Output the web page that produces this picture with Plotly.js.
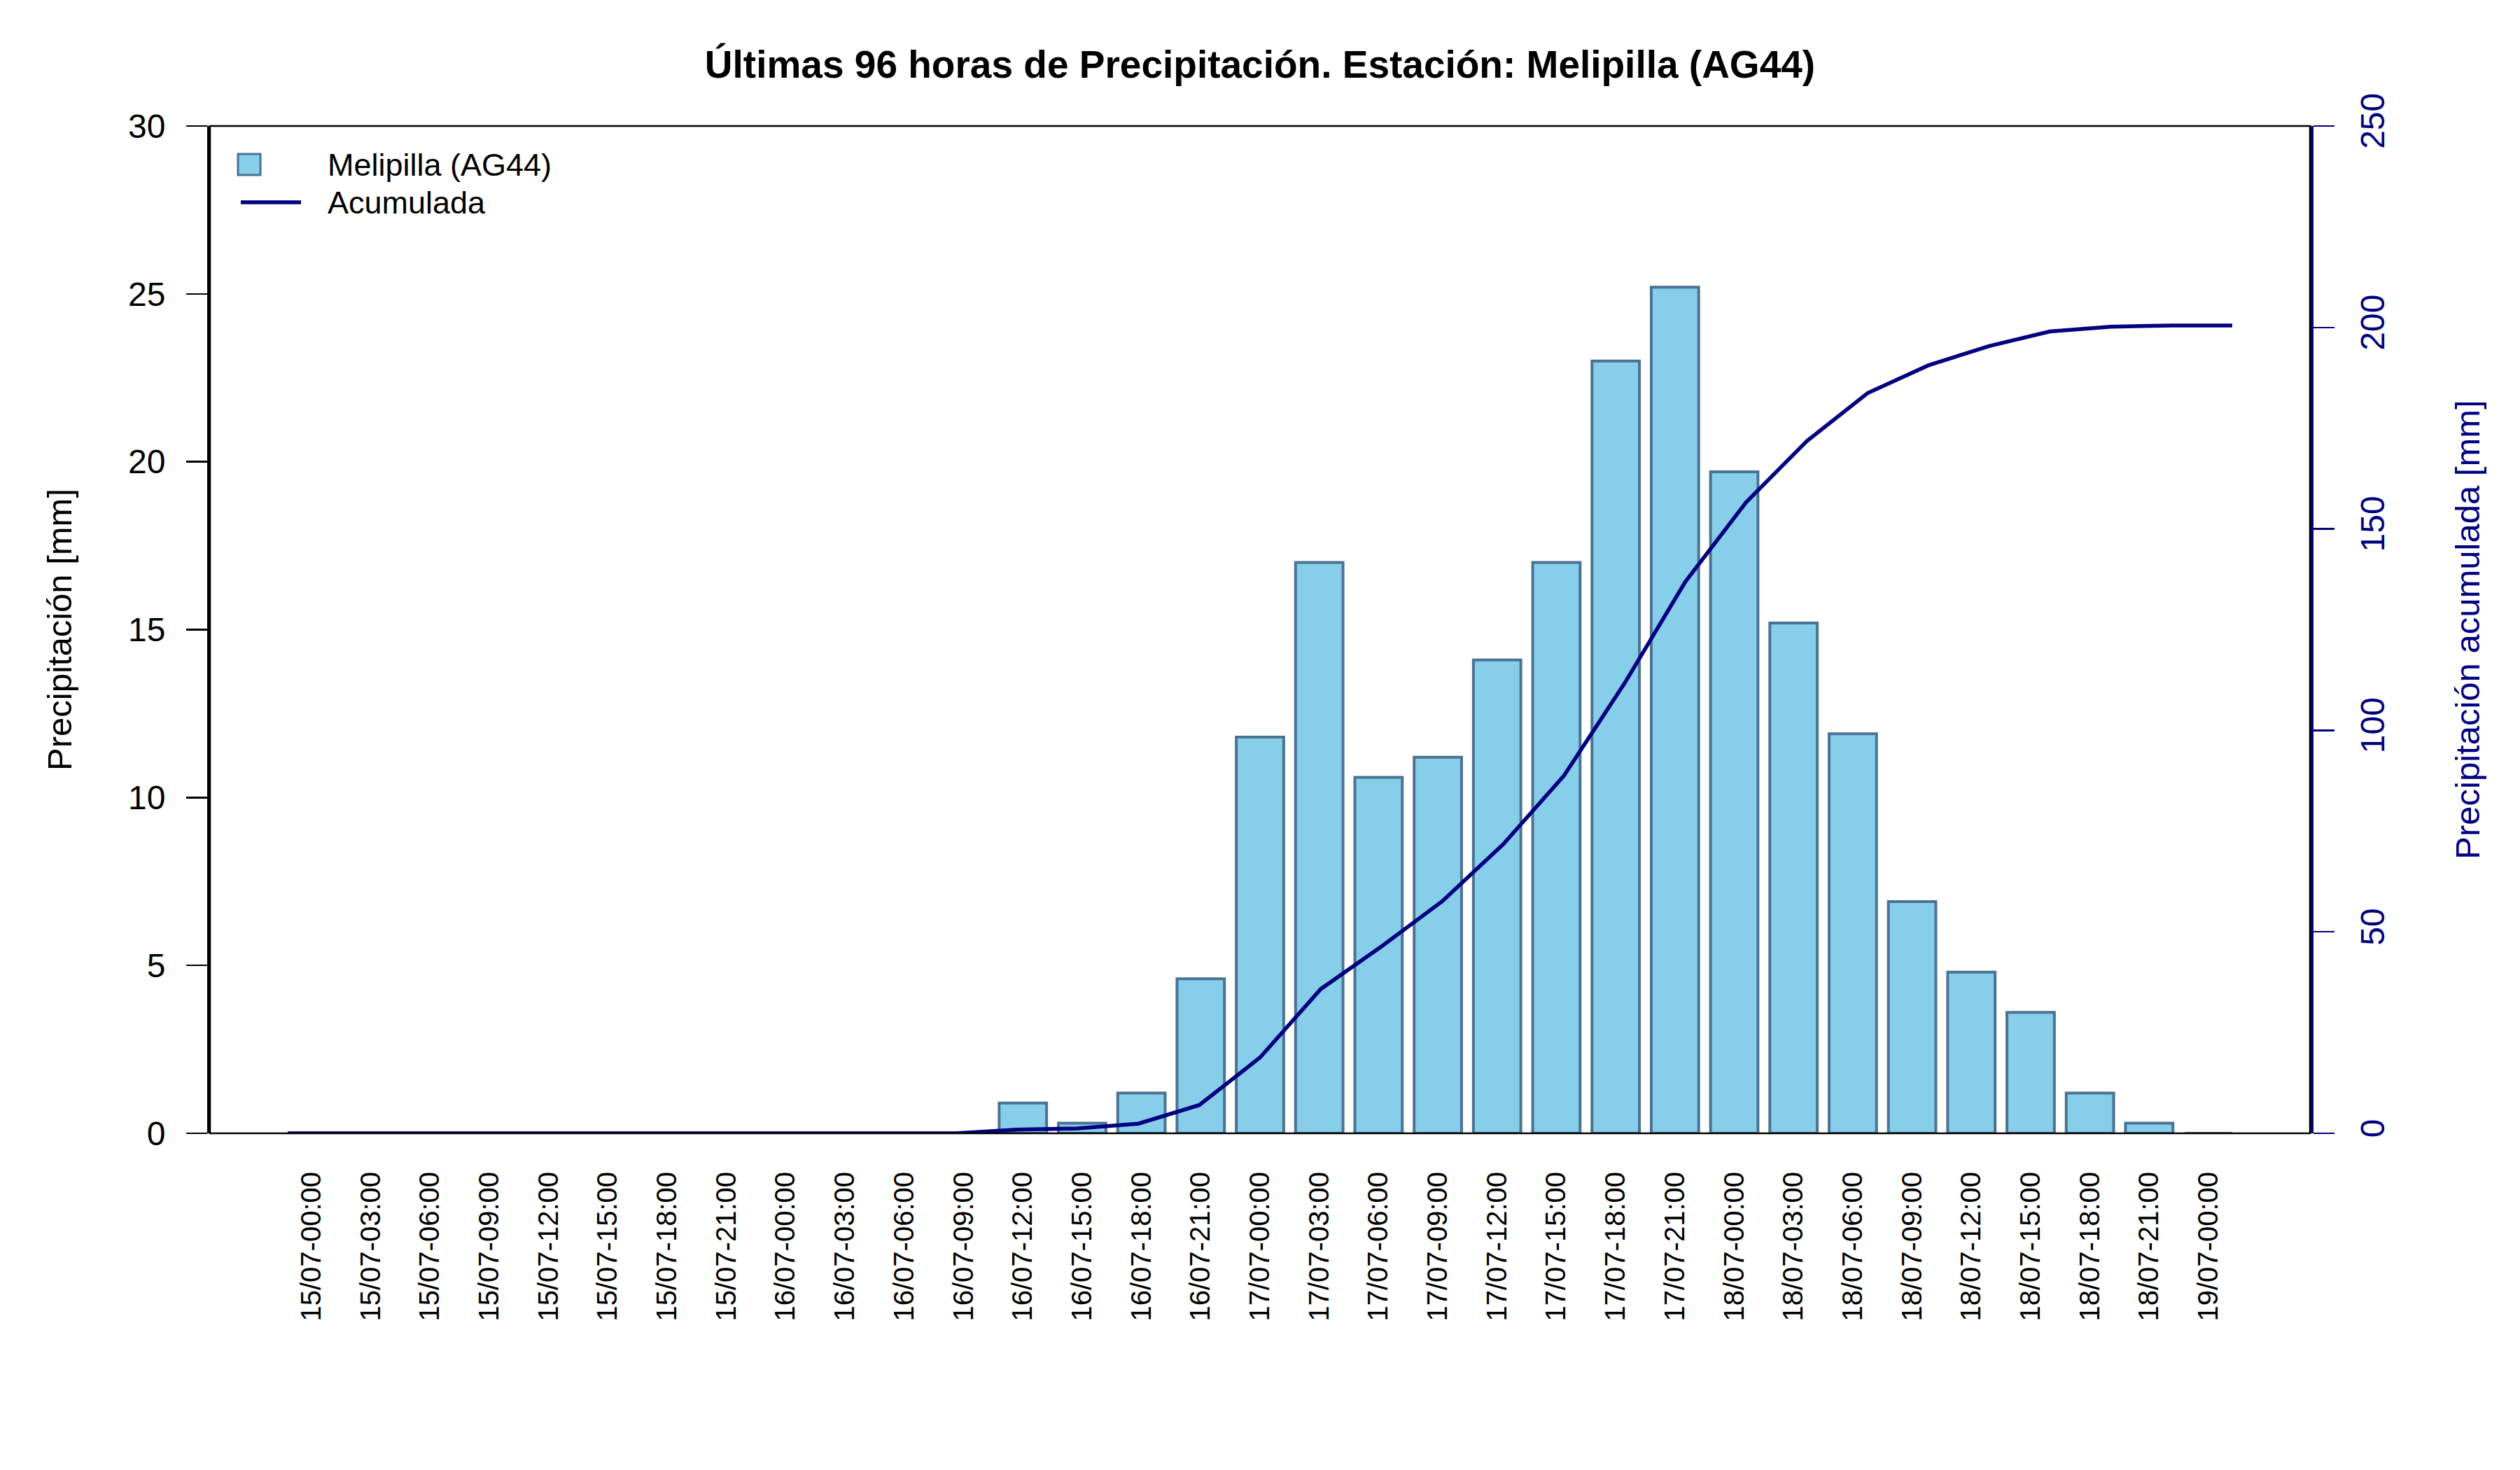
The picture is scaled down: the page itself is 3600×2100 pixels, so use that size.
<!DOCTYPE html>
<html>
<head>
<meta charset="utf-8">
<script src="https://cdn.plot.ly/plotly-3.0.1.min.js"></script>
<style>html,body{margin:0;padding:0;background:#fff;}#chart{width:3600px;height:2100px;}</style>
</head>
<body>
<div id="chart"></div>
<script>
// ---- data ----
const categories = [
  "15/07-00:00","15/07-03:00","15/07-06:00","15/07-09:00","15/07-12:00","15/07-15:00","15/07-18:00","15/07-21:00",
  "16/07-00:00","16/07-03:00","16/07-06:00","16/07-09:00","16/07-12:00","16/07-15:00","16/07-18:00","16/07-21:00",
  "17/07-00:00","17/07-03:00","17/07-06:00","17/07-09:00","17/07-12:00","17/07-15:00","17/07-18:00","17/07-21:00",
  "18/07-00:00","18/07-03:00","18/07-06:00","18/07-09:00","18/07-12:00","18/07-15:00","18/07-18:00","18/07-21:00",
  "19/07-00:00"
];
const precipitation = [
  0, 0, 0, 0, 0, 0, 0, 0,
  0, 0, 0, 0, 0.9, 0.3, 1.2, 4.6,
  11.8, 17.0, 10.6, 11.2, 14.1, 17.0, 23.0, 25.2,
  19.7, 15.2, 11.9, 6.9, 4.8, 3.6, 1.2, 0.3,
  0
];
const accumulated = [
  0, 0, 0, 0, 0, 0, 0, 0,
  0, 0, 0, 0, 0.9, 1.2, 2.4, 7.0,
  18.8, 35.8, 46.4, 57.6, 71.7, 88.7, 111.7, 136.9,
  156.6, 171.8, 183.7, 190.6, 195.4, 199.0, 200.2, 200.5,
  200.5
];
const seriesName = "Melipilla (AG44)";
const lineName = "Acumulada";
const titleText = "Últimas 96 horas de Precipitación. Estación: Melipilla (AG44)";
const yTitle = "Precipitación [mm]";
const y2Title = "Precipitación acumulada [mm]";

// ---- styling ----
const FONT = "Liberation Sans, Arial, Helvetica, sans-serif";
const NAVY = "#000080";
const BARFILL = "#87CEEB";
const BARLINE = "#4A7392";

// plot area in pixels
const L = 300, R = 3300, T = 180, B = 1619, W = 3600, H = 2100;
const px = x => (x - L) / (R - L);
const py = y => (B - y) / (B - T);

const traces = [
  {
    type: "bar",
    x: categories,
    y: precipitation,
    name: seriesName,
    marker: {color: BARFILL, line: {color: BARLINE, width: 4}},
    showlegend: false,
    xaxis: "x", yaxis: "y"
  },
  {
    type: "scatter",
    mode: "lines",
    x: categories,
    y: accumulated,
    name: lineName,
    line: {color: NAVY, width: 5.5},
    showlegend: false,
    xaxis: "x2", yaxis: "y2"
  }
];

const layout = {
  width: W, height: H,
  paper_bgcolor: "#fff", plot_bgcolor: "#fff",
  margin: {l: L, r: W - R, t: T, b: H - B, pad: 0},
  font: {family: FONT, size: 45, color: "#000"},
  bargap: 0.2,
  title: {
    text: "<b>" + titleText + "</b>",
    font: {family: FONT, size: 55, color: "#000"},
    x: 0.5, xref: "paper", xanchor: "center",
    y: 1 - 92 / H, yref: "container", yanchor: "middle"
  },
  xaxis: {
    type: "category",
    categoryorder: "array", categoryarray: categories,
    range: [-1.712, 33.712],
    showgrid: false, zeroline: false, showline: false,
    ticks: "", tickangle: -90,
    tickfont: {family: FONT, size: 40, color: "#000"},
    ticklabelstandoff: 46,
    fixedrange: true
  },
  xaxis2: {
    type: "category",
    categoryorder: "array", categoryarray: categories,
    overlaying: "x",
    range: [-1.28, 33.28],
    visible: false,
    showgrid: false, zeroline: false
  },
  yaxis: {
    range: [0, 30],
    tickmode: "linear", tick0: 0, dtick: 5,
    showgrid: false, zeroline: false,
    showline: true, linecolor: "#000", linewidth: 4,
    ticks: "outside", ticklen: 30, tickwidth: 2.5, tickcolor: "#000",
    tickfont: {family: FONT, size: 48, color: "#000"},
    ticklabelstandoff: 20,
    title: {text: yTitle, font: {family: FONT, size: 49, color: "#000"}, standoff: 66}
  },
  yaxis2: {
    overlaying: "y", side: "right",
    range: [0, 250],
    tickmode: "linear", tick0: 0, dtick: 50,
    showgrid: false, zeroline: false,
    showline: true, linecolor: NAVY, linewidth: 4.5,
    ticks: "outside", ticklen: 30, tickwidth: 2.5, tickcolor: NAVY,
    tickangle: -90,
    tickfont: {family: FONT, size: 48, color: NAVY},
    ticklabelstandoff: 14,
    title: {text: y2Title, font: {family: FONT, size: 49, color: NAVY}, standoff: 94}
  },
  shapes: [
    {type: "rect", xref: "paper", yref: "paper", x0: 0, x1: 1, y0: 0, y1: 1,
     line: {color: "#000", width: 2.5}, fillcolor: "rgba(0,0,0,0)", layer: "above"},
    {type: "rect", xref: "paper", yref: "paper", x0: px(340), x1: px(372), y0: py(250), y1: py(220),
     line: {color: BARLINE, width: 3}, fillcolor: BARFILL},
    {type: "line", xref: "paper", yref: "paper", x0: px(344), x1: px(430), y0: py(289), y1: py(289),
     line: {color: NAVY, width: 5.5}}
  ],
  annotations: [
    {xref: "paper", yref: "paper", x: px(466), y: py(236), xanchor: "left", yanchor: "middle",
     text: seriesName, showarrow: false, font: {family: FONT, size: 45, color: "#000"}},
    {xref: "paper", yref: "paper", x: px(466), y: py(289), xanchor: "left", yanchor: "middle",
     text: lineName, showarrow: false, font: {family: FONT, size: 45, color: "#000"}}
  ],
  showlegend: false
};

Plotly.newPlot("chart", traces, layout, {staticPlot: true, displayModeBar: false});
</script>
</body>
</html>
